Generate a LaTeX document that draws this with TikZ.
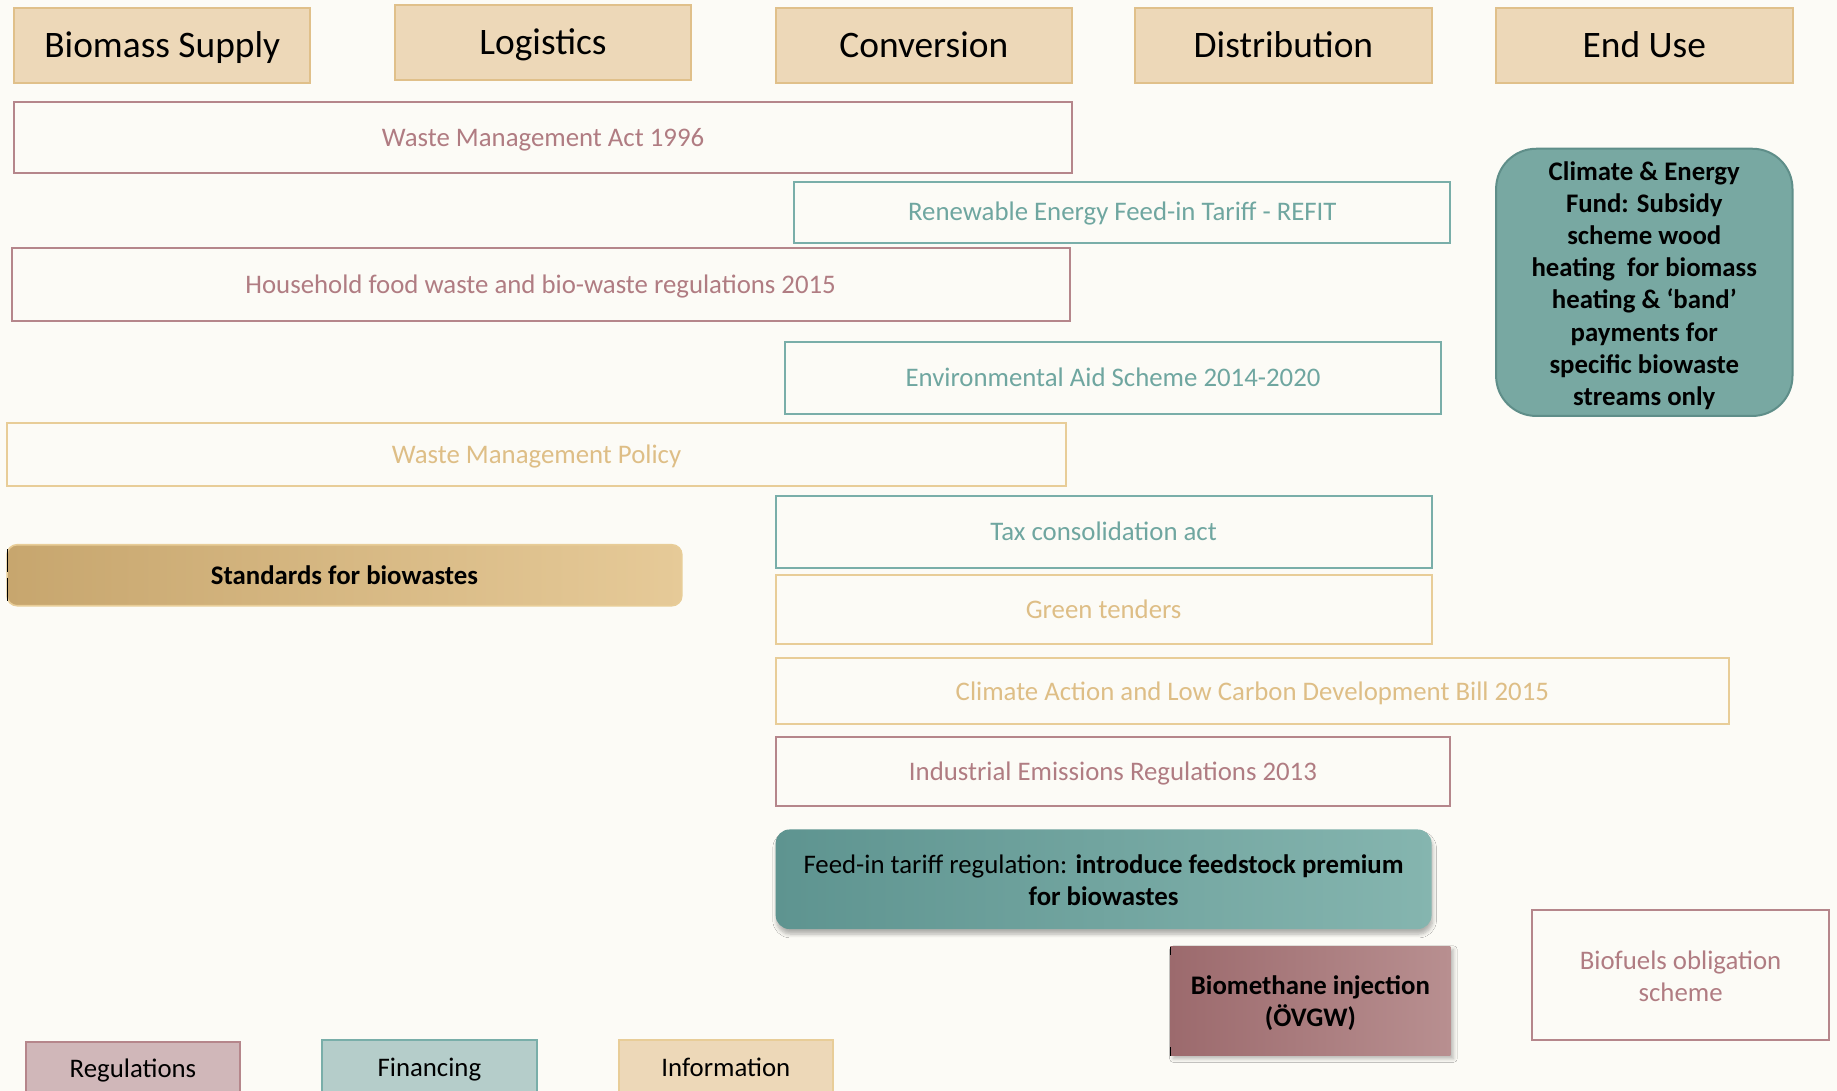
\documentclass[tikz,border=0pt]{standalone}
\usepackage{fontspec}
\setmainfont{Carlito}
\usetikzlibrary{shadows.blur}

\definecolor{paper}{HTML}{FCFBF6}
\definecolor{headfill}{HTML}{EDD8B8}
\definecolor{headline}{HTML}{E0C08A}
\definecolor{regline}{HTML}{B5868B}
\definecolor{regtext}{HTML}{B07C82}
\definecolor{finline}{HTML}{79AEA9}
\definecolor{fintext}{HTML}{6FA6A0}
\definecolor{infline}{HTML}{E8CD98}
\definecolor{inftext}{HTML}{DEBE86}
\definecolor{fundfill}{HTML}{78A8A2}
\definecolor{fundline}{HTML}{5F8E89}
\definecolor{stdleft}{HTML}{C7A66E}
\definecolor{stdright}{HTML}{E6CA98}
\definecolor{fitleft}{HTML}{5E9490}
\definecolor{fitright}{HTML}{85B5AF}
\definecolor{bmleft}{HTML}{9C6A6D}
\definecolor{bmright}{HTML}{B88F90}
\definecolor{legreg}{HTML}{D0B7B9}
\definecolor{legfin}{HTML}{B5CDCA}

\begin{document}
\begin{tikzpicture}[x=0.5858pt,y=-0.5858pt,
  every node/.style={inner sep=0pt, outer sep=0pt, align=center},
  bodyfont/.style={font=\fontsize{13.4}{16.1}\selectfont},
  % one-line labels sit on a fixed line box, so descenders do not move them
  oneline/.style={bodyfont, text height=8.85pt, text depth=0pt},
  header/.style={draw=headline, line width=1pt, fill=headfill,
    minimum width=148.2pt, minimum height=37.5pt,
    font=\fontsize{18.7}{22}\selectfont, text height=12.3pt, text depth=0pt},
  regbox/.style={oneline, draw=regline, line width=1pt, text=regtext},
  finbox/.style={oneline, draw=finline, line width=1pt, text=fintext},
  infbox/.style={oneline, draw=infline, line width=1pt, text=inftext},
  legend/.style={oneline, line width=1pt, minimum width=107.2pt, minimum height=26.9pt},
  multitext/.style={bodyfont}]

% page
\clip (0,0) rectangle (1568,931);
\fill[paper] (0,0) rectangle (1568,931);

% value-chain headers
\node[header] (supply) at (138.5,39) {Biomass Supply};
\node[header] (logist) at (463.5,36) {Logistics};
\node[header] (conv)   at (788.5,39) {Conversion};
\node[header] (distr)  at (1095.5,39) {Distribution};
\node[header] (enduse) at (1403.5,39) {End Use};

% regulations
\node[regbox, minimum width=529.0pt, minimum height=35.7pt] (wma) at (463.5,117.5) {Waste Management Act 1996};
\node[regbox, minimum width=529.0pt, minimum height=36.3pt] (hfw) at (461.5,243) {Household food waste and bio-waste regulations 2015};
\node[regbox, minimum width=337.4pt, minimum height=34.6pt] (ier) at (950,658.5) {Industrial Emissions Regulations 2013};
\node[draw=regline, line width=1pt, minimum width=148.2pt, minimum height=65.0pt] (bos) at (1434.5,832.5) {};
\node[multitext, text=regtext] (bostext) at ([yshift=-0.6pt]bos.center) {Biofuels obligation\\scheme};

% financing
\node[finbox, minimum width=328.0pt, minimum height=30.5pt] (refit) at (958,181) {Renewable Energy Feed-in Tariff - REFIT};
\node[finbox, minimum width=328.0pt, minimum height=35.7pt] (eas) at (950,322.5) {Environmental Aid Scheme 2014-2020};
\node[finbox, minimum width=328.0pt, minimum height=36.3pt] (tax) at (942,454) {Tax consolidation act};

% information
\node[infbox, minimum width=529.6pt, minimum height=31.6pt] (wmp) at (458,388) {Waste Management Policy};
\node[infbox, minimum width=328.0pt, minimum height=34.6pt] (green) at (942,520.5) {Green tenders};
\node[infbox, minimum width=476.8pt, minimum height=32.8pt] (cab) at (1069,590) {Climate Action and Low Carbon Development Bill 2015};

% proposed measures
\node[draw=fundline, line width=1pt, fill=fundfill, rounded corners=20pt,
  minimum width=148.2pt, minimum height=133.6pt] (fund) at (1403.5,241) {};
\node[multitext, font=\fontsize{13.4}{16.1}\selectfont\bfseries] (fundtext) at ([yshift=-1.6pt]fund.center)
  {Climate \& Energy\\Fund: Subsidy\\scheme wood\\heating~ for biomass\\heating \& ‘band’\\payments for\\specific biowaste\\streams only};

\node[oneline, draw=infline, line width=0.8pt, left color=stdleft, right color=stdright,
  rounded corners=5pt, minimum width=337.4pt, minimum height=30.5pt] (std) at (294,491)
  {\bfseries Standards for biowastes};
\draw[black, line width=0.4pt] (std.west |- 0,469) -- (std.west |- 0,488)
  (std.west |- 0,493) -- (std.west |- 0,513);

\node[left color=fitleft, right color=fitright, rounded corners=7pt,
  blur shadow={shadow xshift=0.5pt, shadow yshift=-2.5pt, shadow blur steps=6, shadow opacity=30},
  minimum width=328.0pt, minimum height=49.8pt] (fit) at (942,750.5) {};
\node[multitext] (fittext) at ([yshift=-0.6pt]fit.center)
  {Feed-in tariff regulation: \textbf{introduce feedstock premium}\\\textbf{for biowastes}};

\node[left color=bmleft, right color=bmright,
  blur shadow={shadow xshift=1.5pt, shadow yshift=-1.5pt, shadow blur steps=5, shadow opacity=28},
  minimum width=140.0pt, minimum height=54.5pt] (bio) at (1118.5,854.5) {};
\node[multitext, font=\fontsize{13.4}{16.1}\selectfont\bfseries] (biotext) at ([yshift=-1.2pt]bio.center)
  {Biomethane injection\\(ÖVGW)};
\draw[black, line width=0.5pt] (bio.north west) -- ++(0,7) (bio.south west) -- ++(0,-7);

% legend
\node[legend, draw=regline, fill=legreg] (lreg) at (113.5,912) {Regulations};
\node[legend, draw=finline, fill=legfin] (lfin) at (366.5,911) {Financing};
\node[legend, draw=infline, fill=headfill] (linf) at (619.5,911) {Information};
\end{tikzpicture}
\end{document}
